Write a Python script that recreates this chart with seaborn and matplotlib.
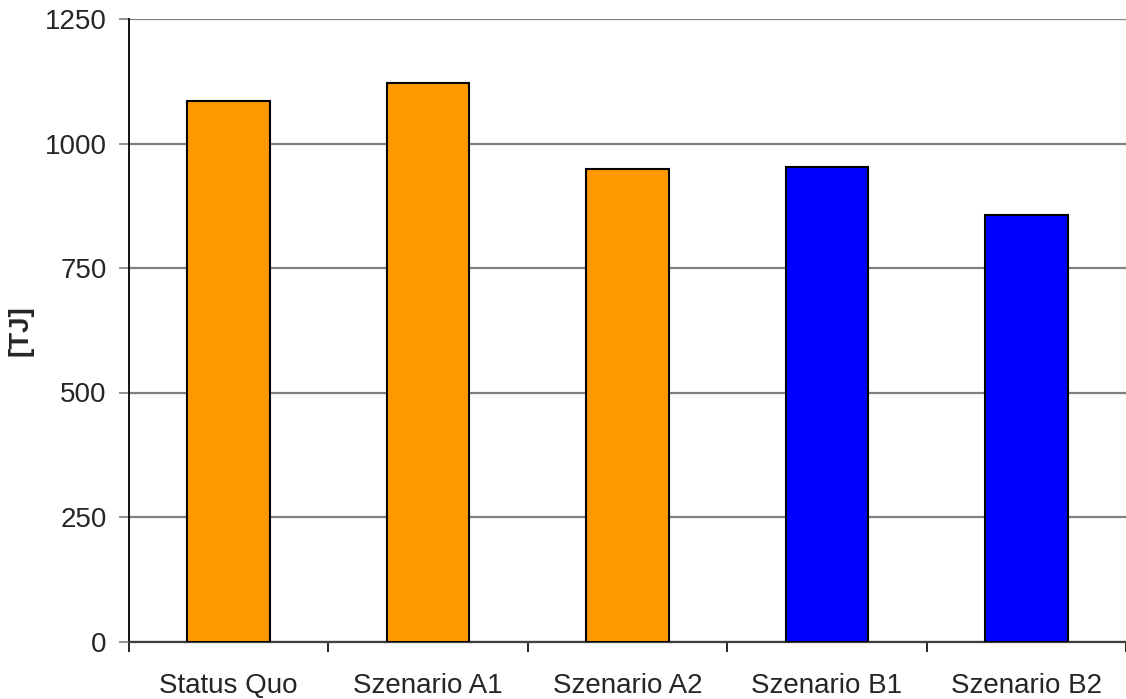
import matplotlib
matplotlib.use("Agg")
import matplotlib.pyplot as plt
import seaborn as sns
import pandas as pd

categories = ["Status Quo", "Szenario A1", "Szenario A2", "Szenario B1", "Szenario B2"]
values = [1085, 1121, 948, 952, 856]
colors = ["#FF9900", "#FF9900", "#FF9900", "#0000FF", "#0000FF"]
yticks = [0, 250, 500, 750, 1000, 1250]

sns.set_style("white")
plt.rcParams["font.family"] = ["Liberation Sans", "DejaVu Sans"]

df = pd.DataFrame({"cat": categories, "val": values})

fig = plt.figure(figsize=(11.26, 6.99), dpi=100)
ax = fig.add_axes([129/1126, 1 - 641.5/699, 1 - 129/1126, (641.5 - 19)/699])

sns.barplot(data=df, x="cat", y="val", hue="cat", palette=dict(zip(categories, colors)),
            saturation=1, width=0.414, edgecolor="black", linewidth=1.5, legend=False, ax=ax, zorder=3)

ax.set_ylim(0, 1250)
ax.set_xlim(-0.5, len(categories) - 0.5)
ax.set_yticks(yticks)
ax.set_yticklabels([str(t) for t in yticks], fontsize=20)
ax.yaxis.grid(True, color="#808080", linewidth=1.6, zorder=0)
ax.set_axisbelow(True)

ax.set_xticks(range(len(categories)))
ax.set_xticklabels(categories, fontsize=20)
ax.set_xticks([i - 0.5 for i in range(len(categories) + 1)], minor=True)
ax.tick_params(axis="x", which="major", length=0, pad=23)
ax.tick_params(axis="x", which="minor", length=7, width=1.2, color="black", direction="out", bottom=True)
ax.tick_params(axis="y", which="major", length=7, width=1.2, color="#808080", direction="out", left=True, pad=9)

for s in ["top", "right"]:
    ax.spines[s].set_visible(False)
ax.spines["left"].set_color("black")
ax.spines["left"].set_linewidth(1.3)
ax.spines["bottom"].set_color("#404040")
ax.spines["bottom"].set_linewidth(1.6)

ax.set_xlabel("")
ax.set_ylabel("[TJ]", fontsize=20, fontweight="bold", labelpad=8)

fig.savefig("out.png", dpi=100)
